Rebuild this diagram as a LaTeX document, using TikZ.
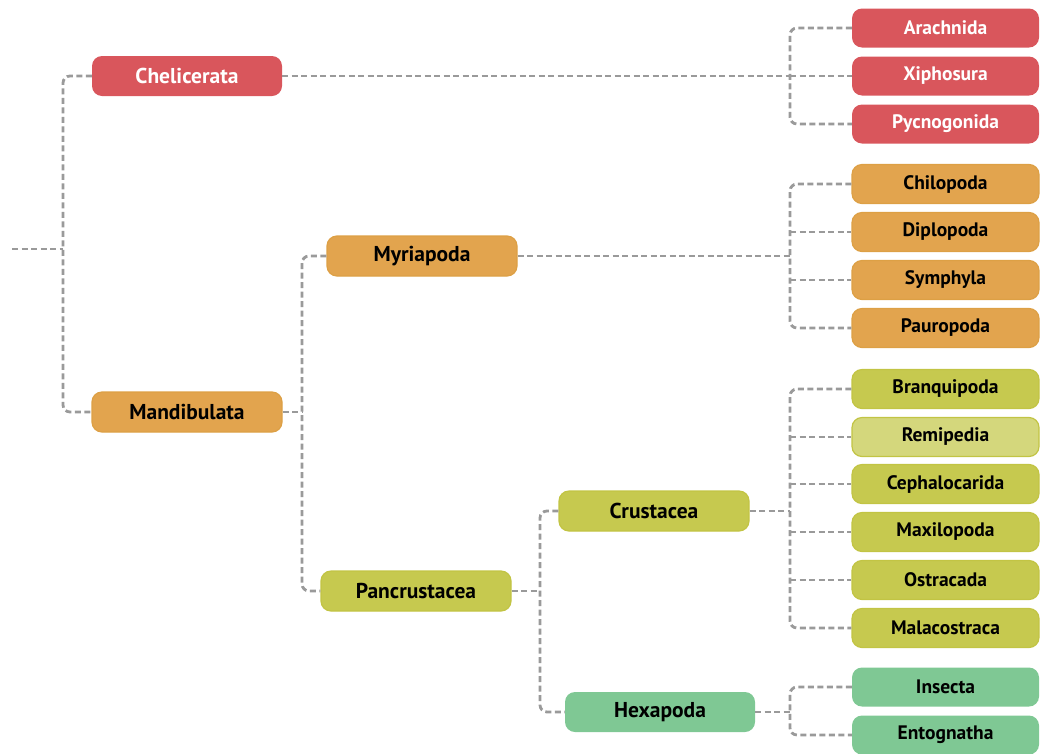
\documentclass[tikz,border=0pt]{standalone}
\usepackage{fontspec}
\setmainfont{PT Sans}
\usetikzlibrary{calc}
\definecolor{cred}{HTML}{D9565C}
\definecolor{cora}{HTML}{E2A44E}
\definecolor{coraline}{HTML}{DDA045}
\definecolor{cyel}{HTML}{C6C94F}
\definecolor{cyelline}{HTML}{C2C444}
\definecolor{cyellight}{HTML}{D4D77C}
\definecolor{cgrn}{HTML}{7FC894}
\definecolor{cgray}{HTML}{9A9A9A}
\tikzset{
  box/.style={rounded corners=10pt, minimum height=40pt, inner sep=0pt, font=\fontsize{21.5}{25}\selectfont\bfseries},
  mid/.style={box, minimum width=190pt},
  leaf/.style={box, minimum width=187pt, minimum height=39pt, font=\fontsize{19.5}{23}\selectfont\bfseries},
  redb/.style={fill=cred, text=white},
  orab/.style={fill=cora, draw=coraline, line width=1.2pt, text=black},
  yelb/.style={fill=cyel, draw=cyelline, line width=1.2pt, text=black},
  grnb/.style={fill=cgrn, text=black},
  conn/.style={draw=cgray, line width=2.8pt, dash pattern=on 6pt off 3.5pt, rounded corners=7pt},
}
\begin{document}
\begin{tikzpicture}[x=1pt,y=-1pt]
\useasboundingbox (0,0) rectangle (1040,753);
% level 1
\node[mid,redb] (chel) at (187,76) {Chelicerata};
\node[mid,orab] (mand) at (187,412) {Mandibulata};
% level 2
\node[mid,orab] (myri) at (422,256) {Myriapoda};
\node[mid,yelb] (panc) at (416,591) {Pancrustacea};
% level 3
\node[mid,yelb] (crus) at (654,511) {Crustacea};
\node[mid,grnb] (hexa) at (660,712) {Hexapoda};
% leaves
\node[leaf,redb] (arac) at (945.5,28) {Arachnida};
\node[leaf,redb] (xiph) at (945.5,76) {Xiphosura};
\node[leaf,redb] (pycn) at (945.5,124) {Pycnogonida};
\node[leaf,orab] (chil) at (945.5,184) {Chilopoda};
\node[leaf,orab] (dipl) at (945.5,232) {Diplopoda};
\node[leaf,orab] (symp) at (945.5,280) {Symphyla};
\node[leaf,orab] (paur) at (945.5,328) {Pauropoda};
\node[leaf,yelb] (bran) at (945.5,389) {Branquipoda};
\node[leaf,yelb,fill=cyellight] (remi) at (945.5,437) {Remipedia};
\node[leaf,yelb] (ceph) at (945.5,484) {Cephalocarida};
\node[leaf,yelb] (maxi) at (945.5,532) {Maxilopoda};
\node[leaf,yelb] (ostr) at (945.5,580) {Ostracada};
\node[leaf,yelb] (mala) at (945.5,628) {Malacostraca};
\node[leaf,grnb] (inse) at (945.5,687) {Insecta};
\node[leaf,grnb] (ento) at (945.5,735) {Entognatha};
% junctions
\coordinate (root) at (12,249);
\coordinate (j0) at (63,249);
\coordinate (j1) at (790,76);
\coordinate (j2) at (302,412);
\coordinate (j3) at (790,256);
\coordinate (j4) at (540,591);
\coordinate (j5) at (790,511);
\coordinate (j6) at (790,712);
% connectors
\draw[conn] (root) -- (j0);
\draw[conn] (chel.west) -| (j0) |- (mand.west);
\draw[conn] (chel.east) -- (j1);
\draw[conn] (arac.west) -| (j1) |- (pycn.west);
\draw[conn] (j1) -- (xiph.west);
\draw[conn] (mand.east) -- (j2);
\draw[conn] (myri.west) -| (j2) |- (panc.west);
\draw[conn] (myri.east) -- (j3);
\draw[conn] (chil.west) -| (j3) |- (paur.west);
\draw[conn] (dipl.west -| j3) -- (dipl.west);
\draw[conn] (symp.west -| j3) -- (symp.west);
\draw[conn] (panc.east) -- (j4);
\draw[conn] (crus.west) -| (j4) |- (hexa.west);
\draw[conn] (crus.east) -- (j5);
\draw[conn] (bran.west) -| (j5) |- (mala.west);
\draw[conn] (remi.west -| j5) -- (remi.west);
\draw[conn] (ceph.west -| j5) -- (ceph.west);
\draw[conn] (maxi.west -| j5) -- (maxi.west);
\draw[conn] (ostr.west -| j5) -- (ostr.west);
\draw[conn] (hexa.east) -- (j6);
\draw[conn] (inse.west) -| (j6) |- (ento.west);
\end{tikzpicture}
\end{document}
